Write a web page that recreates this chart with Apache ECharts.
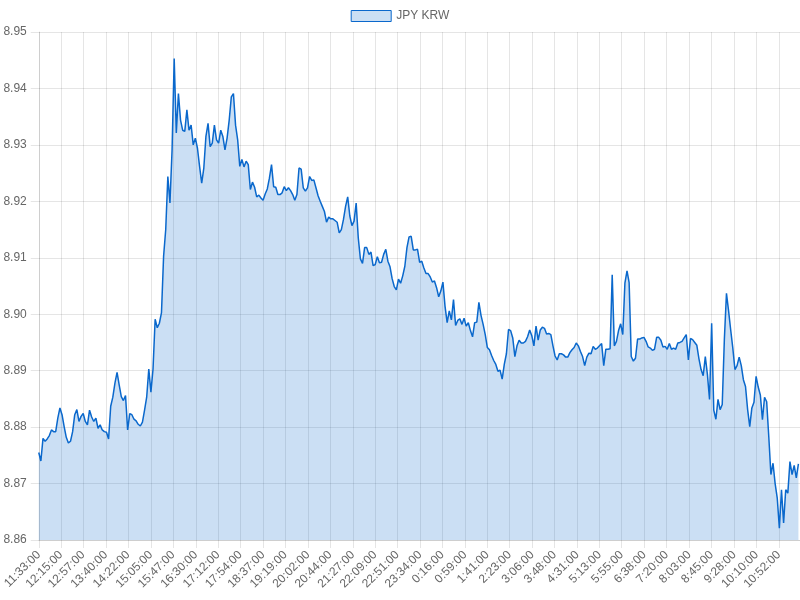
<!DOCTYPE html>
<html>
<head>
<meta charset="utf-8">
<title>JPY KRW</title>
<script src="https://cdn.jsdelivr.net/npm/echarts@6/dist/echarts.min.js"></script>
<style>
    html, body { margin: 0; padding: 0; background: #fff; }
    #chart { width: 800px; height: 600px; }
</style>
</head>
<body>
<div id="chart"></div>
<script>
// 一分钟一个点太多，这里每4分钟取一个值（从 11:33:00 开始）
const seriesName = 'JPY KRW';
const stepMin = 4;
const rates = [
    8.8755, 8.8740, 8.8780, 8.8775, 8.8779, 8.8785, 8.8795, 8.8792, 8.8792, 8.8816,
    8.8834, 8.8822, 8.8801, 8.8782, 8.8772, 8.8775, 8.8792, 8.8822, 8.8831, 8.8810,
    8.8819, 8.8824, 8.8810, 8.8804, 8.8830, 8.8818, 8.8810, 8.8816, 8.8798, 8.8804,
    8.8795, 8.8792, 8.8791, 8.8779, 8.8837, 8.8853, 8.8878, 8.8897, 8.8875, 8.8854,
    8.8847, 8.8856, 8.8795, 8.8824, 8.8822, 8.8814, 8.8811, 8.8805, 8.8802, 8.8809,
    8.8830, 8.8853, 8.8903, 8.8862, 8.8903, 8.8991, 8.8976, 8.8984, 8.9003, 8.9103,
    8.9150, 8.9244, 8.9197, 8.9291, 8.9453, 8.9321, 8.9391, 8.9344, 8.9326, 8.9324,
    8.9362, 8.9326, 8.9335, 8.9300, 8.9312, 8.9294, 8.9262, 8.9232, 8.9259, 8.9315,
    8.9338, 8.9297, 8.9303, 8.9335, 8.9309, 8.9303, 8.9326, 8.9315, 8.9291, 8.9312,
    8.9344, 8.9385, 8.9391, 8.9335, 8.9309, 8.9262, 8.9274, 8.9261, 8.9271, 8.9265,
    8.9221, 8.9234, 8.9225, 8.9208, 8.9211, 8.9206, 8.9202, 8.9213, 8.9222, 8.9241,
    8.9265, 8.9226, 8.9225, 8.9212, 8.9212, 8.9215, 8.9226, 8.9219, 8.9224, 8.9219,
    8.9212, 8.9202, 8.9212, 8.9259, 8.9257, 8.9224, 8.9218, 8.9224, 8.9244, 8.9237,
    8.9238, 8.9224, 8.9210, 8.9200, 8.9191, 8.9182, 8.9163, 8.9172, 8.9169, 8.9169,
    8.9166, 8.9163, 8.9144, 8.9150, 8.9168, 8.9191, 8.9208, 8.9174, 8.9157, 8.9165,
    8.9197, 8.9135, 8.9098, 8.9090, 8.9118, 8.9118, 8.9106, 8.9110, 8.9086, 8.9088,
    8.9102, 8.9091, 8.9092, 8.9106, 8.9115, 8.9094, 8.9084, 8.9063, 8.9049, 8.9043,
    8.9062, 8.9055, 8.9068, 8.9085, 8.9118, 8.9137, 8.9138, 8.9114, 8.9114, 8.9115,
    8.9092, 8.9094, 8.9082, 8.9072, 8.9072, 8.9066, 8.9057, 8.9059, 8.9047, 8.9031,
    8.9041, 8.9057, 8.9014, 8.8985, 8.9006, 8.8990, 8.9026, 8.8980, 8.8989, 8.8992,
    8.8982, 8.8993, 8.8979, 8.8985, 8.8971, 8.8960, 8.8985, 8.8986, 8.9021, 8.8998,
    8.8982, 8.8964, 8.8941, 8.8937, 8.8927, 8.8918, 8.8911, 8.8899, 8.8901, 8.8885,
    8.8911, 8.8930, 8.8973, 8.8971, 8.8958, 8.8925, 8.8944, 8.8954, 8.8949, 8.8949,
    8.8952, 8.8960, 8.8972, 8.8962, 8.8944, 8.8979, 8.8954, 8.8972, 8.8977, 8.8975,
    8.8965, 8.8966, 8.8964, 8.8944, 8.8926, 8.8919, 8.8930, 8.8930, 8.8928, 8.8924,
    8.8924, 8.8932, 8.8937, 8.8941, 8.8949, 8.8944, 8.8934, 8.8925, 8.8909, 8.8924,
    8.8931, 8.8930, 8.8943, 8.8938, 8.8940, 8.8944, 8.8948, 8.8909, 8.8938, 8.8938,
    8.8939, 8.9070, 8.8944, 8.8952, 8.8971, 8.8983, 8.8964, 8.9055, 8.9077, 8.9056,
    8.8925, 8.8917, 8.8922, 8.8956, 8.8956, 8.8958, 8.8959, 8.8952, 8.8942, 8.8940,
    8.8936, 8.8938, 8.8959, 8.8959, 8.8954, 8.8942, 8.8943, 8.8938, 8.8948, 8.8938,
    8.8940, 8.8938, 8.8949, 8.8950, 8.8952, 8.8958, 8.8964, 8.8919, 8.8957, 8.8955,
    8.8950, 8.8945, 8.8921, 8.8902, 8.8891, 8.8925, 8.8893, 8.8849, 8.8984, 8.8830,
    8.8814, 8.8849, 8.8831, 8.8840, 8.8955, 8.9037, 8.9006, 8.8972, 8.8940, 8.8902,
    8.8909, 8.8924, 8.8909, 8.8884, 8.8872, 8.8831, 8.8801, 8.8834, 8.8844, 8.8890,
    8.8871, 8.8857, 8.8813, 8.8853, 8.8845, 8.8783, 8.8716, 8.8736, 8.8700, 8.8674,
    8.8621, 8.8689, 8.8630, 8.8689, 8.8683, 8.8739, 8.8716, 8.8732, 8.8710, 8.8735
];

// x 轴刻度（距 11:33:00 的分钟数）和对应的文字
const tickPos = [
    0, 42, 84, 127, 169, 212, 254, 297, 339, 381, 424, 466, 509, 551, 594, 636, 678,
    721, 763, 806, 848, 890, 933, 975, 1018, 1060, 1102, 1145, 1187, 1230, 1272, 1315, 1357, 1399
];
const tickLabels = [
    '11:33:00', '12:15:00', '12:57:00', '13:40:00', '14:22:00', '15:05:00', '15:47:00',
    '16:30:00', '17:12:00', '17:54:00', '18:37:00', '19:19:00', '20:02:00', '20:44:00',
    '21:27:00', '22:09:00', '22:51:00', '23:34:00', '0:16:00', '0:59:00', '1:41:00',
    '2:23:00', '3:06:00', '3:48:00', '4:31:00', '5:13:00', '5:55:00', '6:38:00',
    '7:20:00', '8:03:00', '8:45:00', '9:28:00', '10:10:00', '10:52:00'
];

const lineColor = '#0a68cc';
const fillColor = 'rgba(10, 104, 204, 0.21)';
const gridColor = 'rgba(0, 0, 0, 0.1)';
const textColor = '#666';
const fontFamily = '"Liberation Sans", Arial, Helvetica, sans-serif';

const drawChart = function () {
    let myChart = echarts.init(document.getElementById('chart'));

    // 把数据变成 [分钟, 值]
    let points = rates.map(function (v, i) { return [i * stepMin, v]; });

    let option = {
        animation: false,
        textStyle: { fontFamily: fontFamily },
        legend: {
            top: 5,
            left: 'center',
            itemWidth: 40,
            itemHeight: 11,
            itemGap: 10,
            textStyle: { color: textColor, fontSize: 12, fontFamily: fontFamily },
            data: [{
                name: seriesName,
                icon: 'rect',
                itemStyle: { color: fillColor, borderColor: lineColor, borderWidth: 1 }
            }]
        },
        grid: { left: 37, right: 0, top: 32, bottom: 60, containLabel: false },
        xAxis: {
            type: 'value',
            min: 0,
            max: 1439,
            axisLine: { show: true, lineStyle: { color: gridColor } },
            axisTick: { show: true, length: 8, customValues: tickPos, lineStyle: { color: gridColor } },
            splitLine: { show: true, lineStyle: { color: gridColor } },
            axisLabel: {
                customValues: tickPos,
                rotate: 45,
                margin: 13,
                color: textColor,
                fontSize: 12,
                fontFamily: fontFamily,
                formatter: function (v) {
                    let k = tickPos.indexOf(Math.round(v));
                    return k >= 0 ? tickLabels[k] : '';
                }
            }
        },
        yAxis: {
            type: 'value',
            min: 8.86,
            max: 8.95,
            interval: 0.01,
            axisLine: { show: true, lineStyle: { color: gridColor } },
            axisTick: { show: true, length: 8, lineStyle: { color: gridColor } },
            splitLine: { show: true, lineStyle: { color: gridColor } },
            axisLabel: {
                margin: 12,
                color: textColor,
                fontSize: 12,
                fontFamily: fontFamily,
                formatter: function (v) { return v.toFixed(2); }
            }
        },
        series: [{
            name: seriesName,
            type: 'line',
            data: points,
            showSymbol: false,
            symbol: 'none',
            sampling: null,
            lineStyle: { color: lineColor, width: 1.5 },
            itemStyle: { color: lineColor },
            areaStyle: { color: fillColor, opacity: 1, origin: 'start' }
        }]
    };

    myChart.setOption(option);
};

drawChart();
</script>
</body>
</html>
